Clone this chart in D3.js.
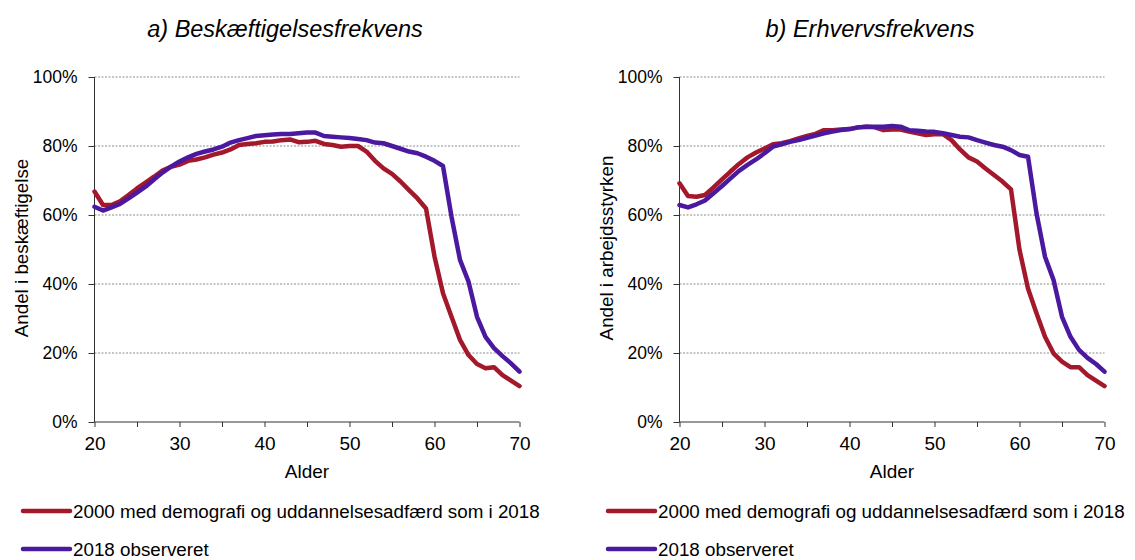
<!DOCTYPE html>
<html><head><meta charset="utf-8">
<script src="https://cdn.jsdelivr.net/npm/d3@7"></script>
<style>
body{margin:0;background:#fff;}
text{font-family:"Liberation Sans",Arial,sans-serif;fill:#000;}
</style></head>
<body><svg id="c" width="1135" height="560"></svg>
<script>
const ages = d3.range(20, 71);
const empRed = [66.8,62.9,62.9,64.0,65.8,67.7,69.4,71.1,72.9,74.0,74.6,75.7,76.1,76.7,77.5,78.1,79.0,80.3,80.6,80.8,81.2,81.3,81.7,81.9,81.1,81.2,81.5,80.6,80.3,79.8,80.0,80.0,78.4,75.7,73.5,71.9,69.7,67.2,64.8,61.9,48.0,37.3,30.5,23.8,19.4,16.8,15.6,15.9,13.6,12.0,10.4];
const empBlue = [62.4,61.3,62.2,63.2,64.8,66.5,68.2,70.3,72.3,74.0,75.5,76.7,77.7,78.4,79.0,79.8,81.0,81.7,82.3,82.9,83.1,83.3,83.5,83.5,83.7,83.9,83.9,82.9,82.7,82.5,82.3,82.0,81.7,81.0,80.8,80.0,79.2,78.4,77.9,76.9,75.7,74.2,59.5,47.0,40.7,30.5,24.7,21.4,19.1,17.0,14.6];
const labRed = [69.2,65.5,65.3,65.8,68.0,70.3,72.6,74.8,76.7,78.1,79.3,80.5,80.8,81.4,82.2,82.9,83.5,84.6,84.6,84.8,84.9,85.4,85.6,85.4,84.6,84.8,84.8,84.2,83.7,83.2,83.4,83.4,81.7,79.0,76.7,75.5,73.5,71.6,69.7,67.4,49.9,38.7,31.5,24.7,19.9,17.5,15.9,15.9,13.6,12.0,10.4];
const labBlue = [62.9,62.2,63.1,64.2,66.3,68.4,70.6,72.8,74.5,76.1,77.9,79.8,80.5,81.2,81.7,82.4,83.0,83.7,84.2,84.6,84.9,85.4,85.6,85.6,85.6,85.8,85.6,84.6,84.4,84.2,84.1,83.7,83.2,82.7,82.5,81.7,81.0,80.3,79.8,78.8,77.4,76.9,60.5,47.9,41.2,30.5,24.7,20.9,18.6,16.8,14.6];
const seriesNames = ["2000 med demografi og uddannelsesadfærd som i 2018","2018 observeret"];
const colors = ["#A3182B","#4B18A0"];
const yTicks = [0,20,40,60,80,100];
const xTicks = [20,30,40,50,60,70];
const xMinor = [20,25,30,35,40,45,50,55,60,65,70];

const panels = [
  {title:"a) Beskæftigelsesfrekvens", ylab:"Andel i beskæftigelse", red:empRed, blue:empBlue, x0:94.5, x1:519.5, tx:285, ylx:22, legx:22},
  {title:"b) Erhvervsfrekvens", ylab:"Andel i arbejdsstyrken", red:labRed, blue:labBlue, x0:679.5, x1:1104.5, tx:870, ylx:607, legx:607}
];
const svg = d3.select("#c");
const yTop = 77, yBot = 422;

panels.forEach(p => {
  const x = d3.scaleLinear().domain([20,70]).range([p.x0,p.x1]);
  const y = d3.scaleLinear().domain([0,100]).range([yBot,yTop]);
  const g = svg.append("g");
  // gridlines
  g.selectAll("line.grid").data(yTicks.filter(d=>d>0)).enter().append("line")
    .attr("x1",p.x0).attr("x2",p.x1).attr("y1",d=>y(d)).attr("y2",d=>y(d))
    .attr("stroke","#8c8c8c").attr("stroke-width",1).attr("stroke-dasharray","2,1.5");
  // y axis
  const ya = g.append("g").attr("transform",`translate(${p.x0},0)`)
    .call(d3.axisLeft(y).tickValues(yTicks).tickFormat(d=>d+"%").tickSize(6).tickPadding(11));
  ya.select(".domain").attr("stroke","#333").attr("d",`M0,${yBot}V${yTop}`);
  ya.selectAll(".tick line").attr("stroke","#333");
  ya.selectAll("text").style("font-size","17.5px").attr("fill","#000");
  // x axis
  const xa = g.append("g").attr("transform",`translate(0,${yBot})`)
    .call(d3.axisBottom(x).tickValues(xMinor).tickFormat(d=>xTicks.includes(d)?d:"").tickSize(5).tickPadding(10));
  xa.select(".domain").attr("stroke","#333").attr("d",`M${p.x0},0H${p.x1}`);
  xa.selectAll(".tick line").attr("stroke","#333");
  xa.selectAll("text").style("font-size","19px").attr("fill","#000");
  // lines
  const line = d3.line().x((d,i)=>x(ages[i])).y(d=>y(d));
  [p.red,p.blue].forEach((s,k)=>{
    g.append("path").datum(s).attr("d",line).attr("fill","none")
      .attr("stroke",colors[k]).attr("stroke-width",4.5).attr("stroke-linejoin","round").attr("stroke-linecap","round");
  });
  // titles
  g.append("text").attr("x",p.tx).attr("y",37).attr("text-anchor","middle")
    .style("font-size","23.5px").style("font-style","italic").text(p.title);
  g.append("text").attr("transform",`translate(${p.ylx+5.5},248) rotate(-90)`).attr("text-anchor","middle")
    .style("font-size","18.8px").text(p.ylab);
  g.append("text").attr("x",(p.x0+p.x1)/2).attr("y",478).attr("text-anchor","middle")
    .style("font-size","19px").text("Alder");
  // legend
  seriesNames.forEach((n,k)=>{
    const ly = 511 + k*38;
    g.append("line").attr("x1",p.legx+1).attr("x2",p.legx+48).attr("y1",ly).attr("y2",ly)
      .attr("stroke",colors[k]).attr("stroke-width",4.5).attr("stroke-linecap","round");
    g.append("text").attr("x",p.legx+51).attr("y",ly+6.5).style("font-size","18.8px").text(n);
  });
});
</script></body></html>
